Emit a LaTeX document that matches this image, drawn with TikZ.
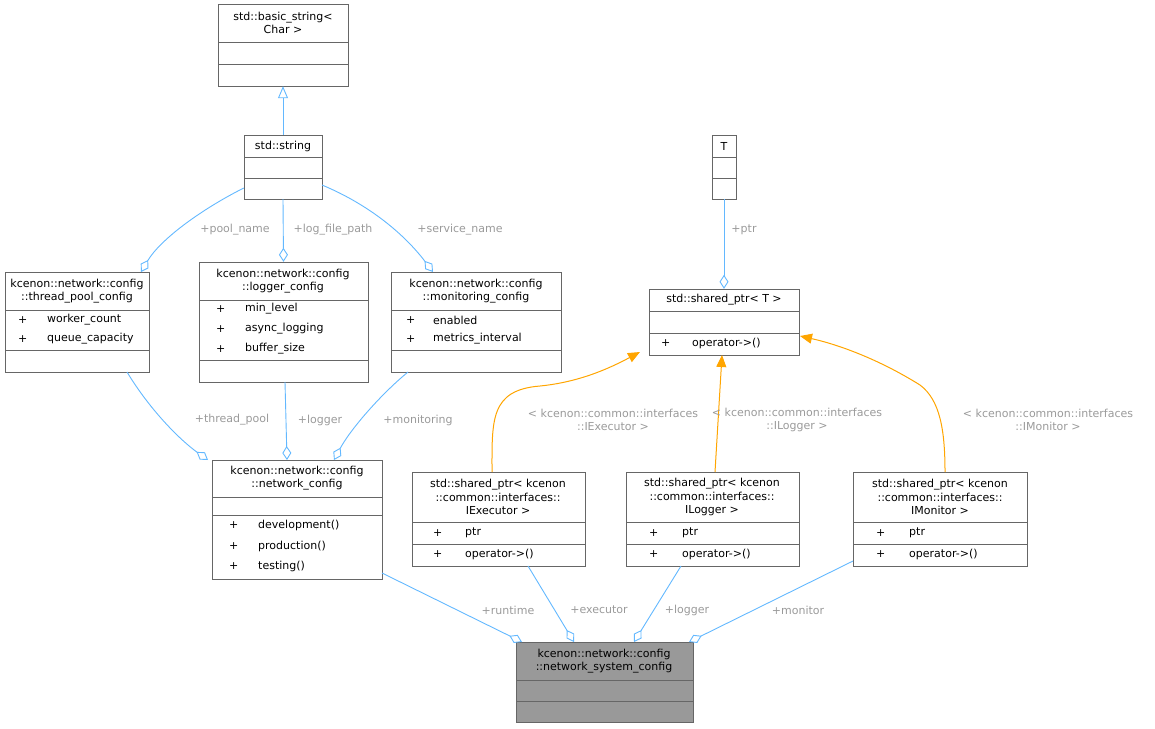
\documentclass[tikz,border=0pt]{standalone}
\usepackage{fontspec}
\setmainfont{DejaVu Sans}
\usetikzlibrary{arrows.meta}
\definecolor{edge}{HTML}{63B8FF}
\definecolor{lbl}{HTML}{9A9A9A}
\definecolor{org}{HTML}{FFA500}
\definecolor{bd}{HTML}{666666}
\definecolor{gfill}{HTML}{999999}
\begin{document}
\begin{tikzpicture}[x=1pt,y=-1pt,
  box/.style={draw=bd,line width=1pt,inner sep=0pt},
  txt/.style={font=\fontsize{11}{13.5}\selectfont,align=center,inner sep=0pt},
  mem/.style={font=\fontsize{11}{13.5}\selectfont,anchor=west,inner sep=0pt},
  lab/.style={font=\fontsize{11}{13.5}\selectfont,text=lbl,align=center,inner sep=1pt},
  agg/.style={draw=edge,line width=0.9pt,-{Diamond[open,length=14pt,width=9pt]}},
  inh/.style={draw=edge,line width=0.9pt,-{Triangle[open,length=12pt,width=10pt]}},
  tpl/.style={draw=org,line width=1pt,-{Triangle[length=12pt,width=10pt,fill=org]}}]
\useasboundingbox (0,0) rectangle (1155,728);
\newcommand{\clsbox}[6]{%
  \path[box,fill=#6] (#2,#3) rectangle (#4,#5);
  \node[inner sep=0pt,minimum width=#4pt-#2pt,minimum height=#5pt-#3pt] (#1) at ({(#2+#4)/2},{(#3+#5)/2}) {};}
\newcommand{\hsep}[3]{\draw[bd,line width=1pt] (#1,#3) -- (#2,#3);}
% basic_string
\clsbox{bs}{218}{4}{348}{86}{white}
\hsep{218}{348}{42}\hsep{218}{348}{64}
\node[txt] at (283,23) {std::basic\_string<\\Char >};
% string
\clsbox{str}{244}{135}{322}{199}{white}
\hsep{244}{322}{157}\hsep{244}{322}{178}
\node[txt] at (283,146) {std::string};
% T
\clsbox{T}{712}{135}{736}{199}{white}
\hsep{712}{736}{157}\hsep{712}{736}{178}
\node[txt] at (724,146) {T};
% thread_pool_config
\clsbox{tp}{5}{272}{149}{372}{white}
\hsep{5}{149}{310}\hsep{5}{149}{350}
\node[txt] at (77,291) {kcenon::network::config\\::thread\_pool\_config};
\node[mem] at (18,320) {+}; \node[mem] at (47,320) {worker\_count};
\node[mem] at (18,339) {+}; \node[mem] at (47,339) {queue\_capacity};
% logger_config
\clsbox{lc}{199}{262}{368}{382}{white}
\hsep{199}{368}{300}\hsep{199}{368}{360}
\node[txt] at (283,281) {kcenon::network::config\\::logger\_config};
\node[mem] at (216,309) {+}; \node[mem] at (245,309) {min\_level};
\node[mem] at (216,329) {+}; \node[mem] at (245,329) {async\_logging};
\node[mem] at (216,349) {+}; \node[mem] at (245,349) {buffer\_size};
% monitoring_config
\clsbox{mc}{391}{272}{561}{372}{white}
\hsep{391}{561}{310}\hsep{391}{561}{350}
\node[txt] at (476,291) {kcenon::network::config\\::monitoring\_config};
\node[mem] at (406,320) {+}; \node[mem] at (433,320) {enabled};
\node[mem] at (406,339) {+}; \node[mem] at (433,339) {metrics\_interval};
% shared_ptr<T>
\clsbox{sp}{649}{289}{799}{355}{white}
\hsep{649}{799}{311}\hsep{649}{799}{333}
\node[txt] at (724,300) {std::shared\_ptr< T >};
\node[mem] at (661,343) {+}; \node[mem] at (692,343) {operator->()};
% network_config
\clsbox{nc}{212}{460}{382}{579}{white}
\hsep{212}{382}{497}\hsep{212}{382}{515}
\node[txt] at (297,478) {kcenon::network::config\\::network\_config};
\node[mem] at (229,525) {+}; \node[mem] at (258,525) {development()};
\node[mem] at (229,546) {+}; \node[mem] at (258,546) {production()};
\node[mem] at (229,566) {+}; \node[mem] at (258,566) {testing()};
% IExecutor
\clsbox{ie}{412}{472}{585}{566}{white}
\hsep{412}{585}{522}\hsep{412}{585}{544}
\node[txt] at (498,497) {std::shared\_ptr< kcenon\\::common::interfaces::\\IExecutor >};
\node[mem] at (433,533) {+}; \node[mem] at (465,533) {ptr};
\node[mem] at (433,554) {+}; \node[mem] at (465,554) {operator->()};
% ILogger
\clsbox{il}{626}{472}{799}{566}{white}
\hsep{626}{799}{522}\hsep{626}{799}{544}
\node[txt] at (712,497) {std::shared\_ptr< kcenon\\::common::interfaces::\\ILogger >};
\node[mem] at (649,533) {+}; \node[mem] at (682,533) {ptr};
\node[mem] at (649,554) {+}; \node[mem] at (682,554) {operator->()};
% IMonitor
\clsbox{im}{853}{472}{1027}{566}{white}
\hsep{853}{1027}{522}\hsep{853}{1027}{544}
\node[txt] at (940,497) {std::shared\_ptr< kcenon\\::common::interfaces::\\IMonitor >};
\node[mem] at (876,533) {+}; \node[mem] at (909,533) {ptr};
\node[mem] at (876,554) {+}; \node[mem] at (909,554) {operator->()};
% network_system_config
\clsbox{nsc}{516}{642}{693}{722}{gfill}
\hsep{516}{693}{680}\hsep{516}{693}{701}
\node[txt] at (604,661) {kcenon::network::config\\::network\_system\_config};
% edges
\draw[inh] (str.north) -- (bs.south);
\draw[agg] (str.west |- 0,188) .. controls (200,210) and (160,240) .. (141,272);
\node[lab] at (235,230) {+pool\_name};
\draw[agg] (str.south) -- (lc.north);
\node[lab] at (333,230) {+log\_file\_path};
\draw[agg] (322,185) .. controls (370,205) and (405,235) .. (433,272);
\node[lab] at (460,230) {+service\_name};
\draw[agg] (T.south) -- (sp.north);
\node[lab] at (744,230) {+ptr};
\draw[agg] (127,372) .. controls (150,410) and (180,440) .. (208,460);
\node[lab] at (232,420) {+thread\_pool};
\draw[agg] (285,382) -- (287,460);
\node[lab] at (320,420) {+logger};
\draw[agg] (408,372) .. controls (380,395) and (350,430) .. (334,460);
\node[lab] at (418,420) {+monitoring};
\draw[agg] (382,573) -- (522,642);
\node[lab] at (508,610) {+runtime};
\draw[agg] (528,566) -- (574,642);
\node[lab] at (599,610) {+executor};
\draw[agg] (681,566) -- (634,642);
\node[lab] at (687,610) {+logger};
\draw[agg] (853,561) -- (689,642);
\node[lab] at (798,610) {+monitor};
\draw[tpl] (492,472) .. controls (492,420) and (490,390) .. (540,386) .. controls (580,382) and (610,368) .. (640,352);
\node[lab] at (613,420) {< kcenon::common::interfaces\\::IExecutor >};
\draw[tpl] (715,472) -- (722,355);
\node[lab] at (797,420) {< kcenon::common::interfaces\\::ILogger >};
\draw[tpl] (945,472) .. controls (945,430) and (940,400) .. (920,385) .. controls (880,360) and (840,345) .. (800,336);
\node[lab] at (1048,420) {< kcenon::common::interfaces\\::IMonitor >};
\end{tikzpicture}
\end{document}
